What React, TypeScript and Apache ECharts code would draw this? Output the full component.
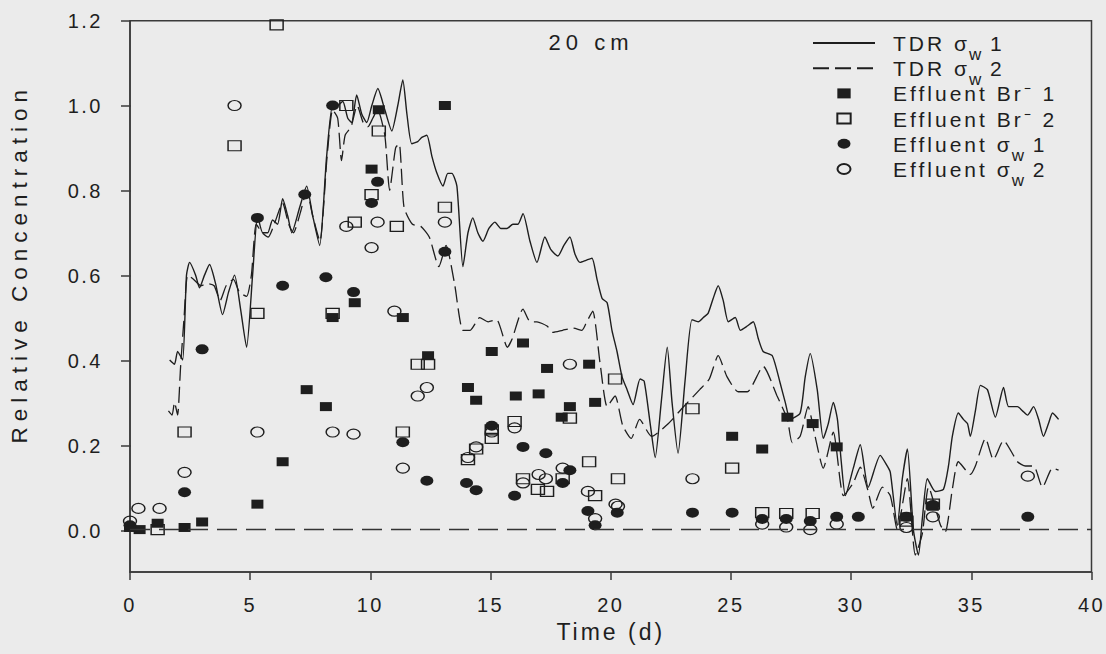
import React, { useEffect, useRef } from "react";
import * as echarts from "echarts";

// ---- data (time in days, relative concentration) ----
const xTickStep = 5;
const yTickStep = 0.2;

const tdr1: number[][] = [
  [1.65, 0.4], [1.85, 0.39], [1.98, 0.42], [2.19, 0.4], [2.35, 0.6], [2.48, 0.63], [2.73, 0.6], [2.89, 0.57],
  [3.1, 0.6], [3.31, 0.625], [3.56, 0.58], [3.85, 0.507], [4.1, 0.56], [4.35, 0.6], [4.6, 0.52], [4.85, 0.43],
  [5.1, 0.6], [5.31, 0.74], [5.52, 0.7], [5.73, 0.7], [5.93, 0.73], [6.14, 0.72], [6.35, 0.78], [6.56, 0.74],
  [6.73, 0.7], [7.06, 0.76], [7.35, 0.81], [7.6, 0.74], [7.89, 0.67], [8.18, 0.88], [8.43, 1.0], [8.64, 1.0],
  [8.85, 1.01], [9.06, 0.97], [9.22, 0.96], [9.43, 1.025], [9.64, 0.98], [9.85, 0.96], [10.06, 1.0], [10.31, 1.04],
  [10.6, 0.99], [10.89, 0.94], [11.14, 1.0], [11.35, 1.06], [11.52, 0.98], [11.72, 0.91], [11.97, 0.915], [12.14, 0.925],
  [12.35, 0.93], [12.56, 0.88], [12.77, 0.84], [13.02, 0.81], [13.22, 0.84], [13.39, 0.84], [13.6, 0.81], [13.85, 0.62],
  [14.06, 0.7], [14.26, 0.735], [14.47, 0.7], [14.68, 0.68], [14.93, 0.71], [15.18, 0.725], [15.43, 0.71], [15.68, 0.71],
  [15.93, 0.72], [16.14, 0.72], [16.35, 0.745], [16.64, 0.68], [16.93, 0.63], [17.26, 0.69], [17.51, 0.66], [17.8, 0.645],
  [18.05, 0.67], [18.3, 0.69], [18.51, 0.65], [18.72, 0.63], [18.97, 0.635], [19.22, 0.64], [19.43, 0.59], [19.64, 0.545],
  [19.85, 0.535], [20.05, 0.47], [20.26, 0.42], [20.47, 0.36], [20.68, 0.33], [20.93, 0.295], [21.22, 0.355], [21.39, 0.35],
  [21.64, 0.25], [21.85, 0.17], [22.1, 0.3], [22.35, 0.43], [22.55, 0.3], [22.8, 0.18], [23.09, 0.35], [23.38, 0.495],
  [23.64, 0.49], [23.85, 0.5], [24.05, 0.51], [24.26, 0.545], [24.47, 0.575], [24.68, 0.54], [24.89, 0.49], [25.18, 0.5],
  [25.39, 0.47], [25.68, 0.48], [25.93, 0.49], [26.14, 0.45], [26.34, 0.42], [26.72, 0.41], [27.05, 0.345], [27.26, 0.3],
  [27.47, 0.26], [27.88, 0.275], [28.09, 0.36], [28.3, 0.415], [28.59, 0.33], [28.84, 0.215], [29.05, 0.25], [29.26, 0.3],
  [29.43, 0.26], [29.59, 0.16], [29.76, 0.08], [30.09, 0.145], [30.38, 0.2], [30.71, 0.1], [31.21, 0.175], [31.5, 0.15],
  [31.63, 0.135], [31.92, 0.01], [32.13, 0.12], [32.34, 0.19], [32.59, 0.0], [32.8, -0.06], [32.97, 0.03], [33.17, 0.12],
  [33.5, 0.09], [33.84, 0.095], [34.05, 0.15], [34.21, 0.22], [34.46, 0.275], [34.67, 0.26], [34.84, 0.25], [34.96, 0.22],
  [35.17, 0.28], [35.38, 0.34], [35.67, 0.33], [36.0, 0.265], [36.34, 0.335], [36.55, 0.29], [36.92, 0.29], [37.13, 0.28],
  [37.34, 0.27], [37.59, 0.29], [37.8, 0.26], [38.0, 0.22], [38.21, 0.25], [38.38, 0.275], [38.63, 0.26],
];

const tdr2: number[][] = [
  [1.6, 0.28], [1.75, 0.27], [1.85, 0.3], [1.98, 0.27], [2.1, 0.38], [2.25, 0.5], [2.4, 0.6], [2.65, 0.59],
  [2.95, 0.575], [3.2, 0.58], [3.5, 0.575], [3.75, 0.54], [4.0, 0.575], [4.3, 0.59], [4.55, 0.56], [4.85, 0.55],
  [5.05, 0.6], [5.25, 0.72], [5.5, 0.7], [5.75, 0.69], [6.0, 0.72], [6.35, 0.77], [6.6, 0.72], [6.8, 0.7],
  [7.1, 0.75], [7.35, 0.8], [7.6, 0.74], [7.9, 0.68], [8.2, 0.88], [8.43, 0.99], [8.64, 0.97], [8.8, 0.87],
  [8.95, 0.93], [9.2, 0.95], [9.45, 1.0], [9.7, 0.96], [9.9, 0.95], [10.1, 0.97], [10.3, 0.99], [10.6, 0.93],
  [10.8, 0.8], [11.05, 0.9], [11.2, 0.91], [11.4, 0.76], [11.75, 0.72], [12.1, 0.715], [12.45, 0.69], [12.85, 0.62],
  [13.15, 0.67], [13.5, 0.58], [13.85, 0.47], [14.15, 0.47], [14.55, 0.5], [14.9, 0.49], [15.25, 0.495], [15.7, 0.43],
  [15.9, 0.45], [16.35, 0.52], [16.65, 0.49], [16.93, 0.49], [17.35, 0.48], [17.6, 0.465], [18.0, 0.47], [18.43, 0.475],
  [18.8, 0.47], [19.0, 0.49], [19.25, 0.515], [19.55, 0.395], [19.85, 0.29], [20.18, 0.315], [20.5, 0.245], [20.85, 0.215],
  [21.2, 0.26], [21.7, 0.22], [22.4, 0.25], [22.95, 0.285], [23.7, 0.33], [24.1, 0.355], [24.47, 0.41], [24.84, 0.36],
  [25.3, 0.325], [25.68, 0.325], [26.34, 0.385], [26.92, 0.315], [27.35, 0.26], [27.55, 0.205], [27.88, 0.22], [28.21, 0.29],
  [28.5, 0.22], [28.84, 0.145], [29.26, 0.23], [29.68, 0.08], [30.09, 0.11], [30.38, 0.147], [30.71, 0.09], [30.9, 0.05],
  [31.3, 0.1], [31.63, 0.08], [31.92, 0.0], [32.34, 0.12], [32.67, -0.06], [32.96, -0.01], [33.22, 0.1], [33.72, 0.01],
  [33.92, -0.005], [34.21, 0.095], [34.46, 0.16], [34.96, 0.13], [35.17, 0.15], [35.59, 0.215], [35.92, 0.165], [36.34, 0.21],
  [36.92, 0.16], [37.25, 0.15], [37.59, 0.15], [37.96, 0.1], [38.38, 0.145], [38.63, 0.14],
];

const brEffluent1: number[][] = [
  [0.0, 0.005], [0.4, 0.0], [1.15, 0.015], [2.27, 0.005], [3.0, 0.018], [5.3, 0.06], [6.35, 0.16], [7.35, 0.33],
  [8.15, 0.29], [8.43, 0.5], [9.35, 0.535], [10.05, 0.85], [10.35, 0.99], [11.35, 0.5], [12.4, 0.41], [13.1, 1.0],
  [14.06, 0.335], [14.4, 0.305], [15.05, 0.42], [16.05, 0.315], [16.35, 0.44], [17.0, 0.32], [17.35, 0.38], [17.96, 0.265],
  [18.3, 0.29], [19.1, 0.39], [19.35, 0.3], [25.05, 0.22], [26.3, 0.19], [27.35, 0.265], [28.4, 0.25], [29.4, 0.195],
  [32.3, 0.03], [33.4, 0.055],
];

const brEffluent2: number[][] = [
  [1.15, 0.0], [2.27, 0.23], [4.35, 0.905], [5.3, 0.51], [6.1, 1.19], [8.43, 0.51], [9.0, 1.0], [9.35, 0.725],
  [10.05, 0.79], [10.35, 0.94], [11.1, 0.715], [11.35, 0.23], [11.97, 0.39], [12.4, 0.39], [13.1, 0.76], [14.06, 0.165],
  [14.4, 0.19], [15.05, 0.235], [15.05, 0.215], [16.0, 0.255], [16.35, 0.12], [16.97, 0.095], [17.35, 0.09], [18.0, 0.12],
  [18.3, 0.263], [19.1, 0.16], [19.35, 0.08], [20.18, 0.355], [20.3, 0.12], [23.4, 0.285], [25.05, 0.145], [26.3, 0.04],
  [27.3, 0.038], [28.4, 0.038], [32.3, 0.02], [33.4, 0.06],
];

const ecEffluent1: number[][] = [
  [0.0, 0.01], [2.27, 0.088], [3.0, 0.425], [5.3, 0.735], [6.35, 0.575], [7.27, 0.79], [8.15, 0.595], [8.43, 1.0],
  [9.3, 0.56], [10.05, 0.77], [10.3, 0.82], [11.35, 0.206], [12.35, 0.115], [13.1, 0.655], [14.0, 0.11], [14.4, 0.093],
  [15.05, 0.245], [16.0, 0.08], [16.35, 0.195], [17.3, 0.18], [18.0, 0.11], [18.3, 0.14], [19.05, 0.044], [19.35, 0.01],
  [20.27, 0.04], [23.4, 0.04], [25.05, 0.04], [26.3, 0.025], [27.3, 0.025], [28.3, 0.02], [29.4, 0.03], [30.3, 0.03],
  [32.3, 0.03], [33.4, 0.058], [37.35, 0.03],
];

const ecEffluent2: number[][] = [
  [0.0, 0.02], [0.35, 0.05], [1.23, 0.05], [2.27, 0.135], [4.35, 1.0], [5.3, 0.23], [8.43, 0.23], [9.0, 0.715],
  [9.3, 0.225], [10.05, 0.665], [10.3, 0.725], [11.0, 0.515], [11.35, 0.145], [11.97, 0.315], [12.35, 0.335], [13.1, 0.725],
  [14.06, 0.17], [14.4, 0.195], [15.05, 0.23], [16.0, 0.24], [16.35, 0.11], [17.0, 0.13], [17.3, 0.12], [18.0, 0.145],
  [18.3, 0.39], [19.05, 0.09], [19.35, 0.026], [20.2, 0.06], [20.3, 0.055], [23.4, 0.12], [26.3, 0.013], [27.3, 0.006],
  [28.3, 0.0], [29.4, 0.013], [32.3, 0.005], [33.4, 0.03], [37.35, 0.126],
];

const seriesNames = [
  "TDR σw 1",
  "TDR σw 2",
  "Effluent Br⁻ 1",
  "Effluent Br⁻ 2",
  "Effluent σw 1",
  "Effluent σw 2",
];

const legendRich: Record<string, string> = {
  "TDR σw 1": "{a0|TDR σ}{s1|w}{a| 1}",
  "TDR σw 2": "{a0|TDR σ}{s1|w}{a| 2}",
  "Effluent Br⁻ 1": "{a0|Effluent Br⁻ 1}",
  "Effluent Br⁻ 2": "{a0|Effluent Br⁻ 2}",
  "Effluent σw 1": "{a0|Effluent σ}{s2|w}{a| 1}",
  "Effluent σw 2": "{a0|Effluent σ}{s2|w}{a| 2}",
};

const panelLabel = "20 cm";

// ---- styling ----
const FONT = "'Liberation Sans', Arial, sans-serif";
const INK = "#1e1e1e";
const AXIS = "#3a3a3a";
const SQ = "path://M0,0H12V9H0Z";
const EL = "path://M0,5A6.5,5,0,1,1,13,5A6.5,5,0,1,1,0,5Z";

const css = `
#root text[style*="20px"] { letter-spacing: 2.5px; }
#root text[style*="21px"] { letter-spacing: 3px; }
#root text[style*="22px"] { letter-spacing: 5px; }
#root text[style*="22.5px"] { letter-spacing: 6px; }
#root text[style*="23px"] { letter-spacing: 3px; }
`;

function buildOption(): any {
  const axisLineStyle = { color: AXIS, width: 1.5 };
  const richBase = { fontSize: 21, fontFamily: FONT, color: INK, lineHeight: 20, verticalAlign: "top" };
  const subBase = { fontSize: 17, fontFamily: FONT, color: INK, lineHeight: 14, verticalAlign: "top" };
  return {
    animation: false,
    backgroundColor: "#ebebeb",
    textStyle: { fontFamily: FONT },
    grid: [
      { left: 130, right: 14.5, top: 20.7, bottom: 82, show: true, borderColor: AXIS, borderWidth: 1.5, backgroundColor: "transparent" },
      { left: 130, right: 14.5, top: 20.7, bottom: 123.3, show: false },
    ],
    xAxis: [
      {
        type: "value", gridIndex: 0, min: 0, max: 40, interval: xTickStep,
        name: "Time (d)", nameLocation: "middle", nameGap: 48,
        nameTextStyle: { fontSize: 23, color: INK, fontFamily: FONT },
        axisLine: { show: true, onZero: false, lineStyle: axisLineStyle },
        axisTick: { show: true, length: 8, lineStyle: axisLineStyle },
        axisLabel: { fontSize: 20, color: INK, margin: 23, fontFamily: FONT },
        splitLine: { show: false },
      },
      { type: "value", gridIndex: 1, min: 0, max: 1, show: false },
    ],
    yAxis: [
      {
        type: "value", gridIndex: 0, min: -0.1, max: 1.2,
        axisLine: { show: true, lineStyle: axisLineStyle },
        axisTick: { show: false }, axisLabel: { show: false }, splitLine: { show: false },
      },
      {
        type: "value", gridIndex: 1, min: 0, max: 1.2, interval: yTickStep,
        name: "Relative Concentration", nameLocation: "middle", nameGap: 100,
        nameTextStyle: { fontSize: 22.5, color: INK, fontFamily: FONT, padding: [0, 0, 0, 24] },
        axisLine: { show: false },
        axisTick: { show: true, length: 10, lineStyle: axisLineStyle },
        axisLabel: { fontSize: 20, color: INK, margin: 28, fontFamily: FONT, formatter: (v: number) => v.toFixed(1) },
        splitLine: { show: false },
      },
    ],
    legend: {
      orient: "vertical", left: 812, top: 33, padding: 0,
      itemWidth: 62, itemHeight: 10, itemGap: -5.8,
      textStyle: {
        fontSize: 21, color: INK, fontFamily: FONT,
        rich: {
          a0: { ...richBase, padding: [0, 0, 10, 13] },
          a: { ...richBase, padding: [0, 0, 10, 0] },
          s1: { ...subBase, padding: [13, 0, 0, 14] },
          s2: { ...subBase, padding: [13, 0, 0, 29] },
        },
      },
      formatter: (name: string) => legendRich[name] || name,
      data: [
        { name: seriesNames[0] },
        { name: seriesNames[1] },
        { name: seriesNames[2], icon: SQ },
        { name: seriesNames[3], icon: SQ },
        { name: seriesNames[4], icon: EL },
        { name: seriesNames[5], icon: EL },
      ],
    },
    graphic: [
      {
        type: "text", x: 591, y: 42.5,
        style: { text: panelLabel, fontSize: 22, fontFamily: FONT, fill: INK, align: "center", verticalAlign: "middle" },
      },
    ],
    series: [
      {
        name: seriesNames[0], type: "line", data: tdr1, symbol: "none", smooth: 0.2,
        lineStyle: { color: INK, width: 1.4 }, itemStyle: { color: "transparent", borderWidth: 0 }, z: 2,
        markLine: {
          silent: true, symbol: "none", label: { show: false },
          lineStyle: { color: "#333", width: 1.3, type: [20, 9] },
          data: [{ yAxis: 0 }],
        },
      },
      {
        name: seriesNames[1], type: "line", data: tdr2, symbol: "none", smooth: 0.2,
        lineStyle: { color: INK, width: 1.3, type: [16, 6] }, itemStyle: { color: "transparent", borderWidth: 0 }, z: 2,
      },
      {
        name: seriesNames[2], type: "scatter", data: brEffluent1, symbol: "rect", symbolSize: [12, 9],
        itemStyle: { color: INK, opacity: 1 }, z: 3,
      },
      {
        name: seriesNames[3], type: "scatter", data: brEffluent2, symbol: "rect", symbolSize: [13, 10],
        itemStyle: { color: "transparent", borderColor: INK, borderWidth: 1.3, opacity: 1 }, z: 4,
      },
      {
        name: seriesNames[4], type: "scatter", data: ecEffluent1, symbol: EL, symbolSize: [13, 10],
        itemStyle: { color: INK, opacity: 1 }, z: 3,
      },
      {
        name: seriesNames[5], type: "scatter", data: ecEffluent2, symbol: EL, symbolSize: [13, 10],
        itemStyle: { color: "transparent", borderColor: INK, borderWidth: 1.3, opacity: 1 }, z: 4,
      },
    ],
  };
}

export default function App() {
  const ref = useRef<HTMLDivElement>(null);
  useEffect(() => {
    if (!ref.current) return;
    const chart = echarts.init(ref.current, null, { renderer: "svg" });
    chart.setOption(buildOption());
    return () => chart.dispose();
  }, []);
  return (
    <>
      <style>{css}</style>
      <div ref={ref} style={{ position: "fixed", left: 0, top: 0, width: 1106, height: 654 }} />
    </>
  );
}
